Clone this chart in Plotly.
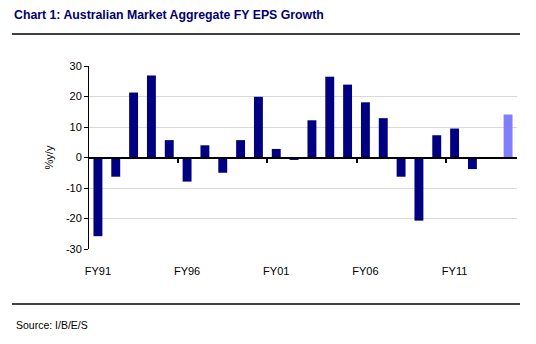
import plotly.graph_objects as go

years = list(range(1991, 2015))
labels = [f"FY{y % 100:02d}" for y in years]
eps_growth = [-25.8, -6.3, 21.3, 26.9, 5.7, -7.9, 4.0, -5.0, 5.7, 19.9, 2.8, -0.8,
              12.2, 26.5, 23.9, 18.1, 12.9, -6.3, -20.7, 7.3, 9.5, -3.8, -0.5, 14.1]
n_estimates = 2  # last two years are consensus forecasts
label_years = [1991, 1996, 2001, 2006, 2011]
y_ticks = [-30, -20, -10, 0, 10, 20, 30]
y_ticktext = [str(v) for v in y_ticks]

act_x, act_y = years[:-n_estimates], eps_growth[:-n_estimates]
est_x, est_y = years[-n_estimates:], eps_growth[-n_estimates:]

font_main = "Liberation Sans, Arial, sans-serif"
fig = go.Figure()
fig.add_bar(x=act_x, y=act_y, width=0.5, marker=dict(color="#000080", line=dict(width=0)))
fig.add_bar(x=est_x, y=est_y, width=0.5, marker=dict(color="#8080FF", line=dict(width=0)))
# invisible trace to keep the zero-line axis alive
fig.add_scatter(x=[years[0]], y=[0], xaxis="x2", mode="markers",
                marker=dict(opacity=0), hoverinfo="skip", showlegend=False)

xr = [years[0] - 0.5, years[-1] + 0.5]
bounds = [y - 0.5 for y in label_years[1:]]

fig.update_layout(
    width=536, height=344,
    margin=dict(l=89, r=19, t=66, b=95),
    paper_bgcolor="white", plot_bgcolor="white",
    showlegend=False, barmode="overlay",
    font=dict(family=font_main, size=11, color="#000000"),
    xaxis=dict(range=xr, tickvals=label_years,
               ticktext=[labels[years.index(y)] for y in label_years],
               ticks="outside", ticklen=12, tickcolor="rgba(0,0,0,0)",
               showline=False, showgrid=False, zeroline=False,
               tickfont=dict(size=11, color="#000000")),
    xaxis2=dict(range=xr, overlaying="x", anchor="free", position=0.5,
                tickvals=bounds, ticks="outside", ticklen=5, tickwidth=1.5,
                tickcolor="#000000", showticklabels=False,
                showline=True, linecolor="#000000", linewidth=1.5,
                showgrid=False, zeroline=False),
    yaxis=dict(range=[-30, 30], tickvals=y_ticks, ticktext=y_ticktext,
               ticks="outside", ticklen=4,
               tickcolor="#000000", showline=True, linecolor="#000000", linewidth=1,
               showgrid=True, gridcolor="#d9d9d9", gridwidth=1, zeroline=False,
               tickfont=dict(size=11, color="#000000"),
               title=dict(text="%y/y", font=dict(size=11, color="#000000"), standoff=10)),
    shapes=[
        dict(type="line", xref="paper", yref="paper", x0=-77/428, x1=431/428,
             y0=1 + 32/183, y1=1 + 32/183, line=dict(color="#000000", width=1.5)),
        dict(type="line", xref="paper", yref="paper", x0=-77/428, x1=431/428,
             y0=-55/183, y1=-55/183, line=dict(color="#000000", width=1.5)),
    ],
    annotations=[
        dict(text="<b>Chart 1: Australian Market Aggregate FY EPS Growth</b>",
             xref="paper", yref="paper", x=-77/428, y=1 + 51/183, xanchor="left", yanchor="middle",
             showarrow=False,
             font=dict(family=font_main, size=12.3, color="#000070")),
        dict(text="Source: I/B/E/S", xref="paper", yref="paper", x=-75/428, y=-76/183,
             xanchor="left", yanchor="middle", showarrow=False,
             font=dict(family=font_main, size=10.5, color="#000000")),
    ],
)

fig.write_html("out.html")
